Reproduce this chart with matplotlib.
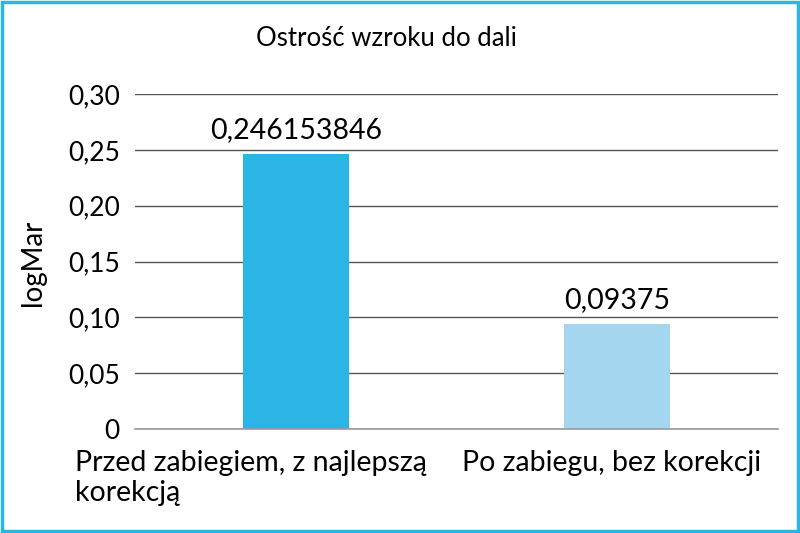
import matplotlib
matplotlib.use("Agg")
import matplotlib.pyplot as plt
from matplotlib.patches import Rectangle
import matplotlib.transforms as mtransforms

categories = ["Przed zabiegiem, z najlepszą\nkorekcją", "Po zabiegu, bez korekcji"]
values = [0.246153846, 0.09375]
value_labels = ["0,246153846", "0,09375"]
colors = ["#2BB5E4", "#A5D6F0"]
yticks = [0, 0.05, 0.10, 0.15, 0.20, 0.25, 0.30]
ytick_labels = ["0", "0,05", "0,10", "0,15", "0,20", "0,25", "0,30"]
title = "Ostrość wzroku do dali"
ylabel = "logMar"

plt.rcParams['font.family'] = ['Lato', 'DejaVu Sans']

fig = plt.figure(figsize=(8, 5.33), dpi=100)
ax = fig.add_axes([135/800, 1 - 429/533, (778-135)/800, (429-94)/533])

x = list(range(len(categories)))
ax.bar(x, values, width=0.33, color=colors, zorder=3)
ax.set_xlim(-0.5, 1.5)
ax.set_ylim(0, 0.30)
ax.set_yticks(yticks)
ax.set_yticklabels(ytick_labels, fontsize=19)
ax.yaxis.grid(True, color="#555555", linewidth=1.0, zorder=0)
ax.tick_params(axis='y', length=0, pad=11)
ax.tick_params(axis='x', length=0, pad=15)
for s in ["top", "right", "left"]:
    ax.spines[s].set_visible(False)
ax.spines["bottom"].set_color("#999999")
ax.spines["bottom"].set_linewidth(1.2)
ax.spines["bottom"].set_zorder(4)

ax.set_xticks(x)
ax.set_xticklabels(categories, fontsize=20.5, linespacing=1.2)
lbls = ax.get_xticklabels()
for lbl in lbls:
    lbl.set_verticalalignment('top')
lbls[0].set_multialignment('left')
lbls[0].set_transform(lbls[0].get_transform() + mtransforms.ScaledTranslation(-45/100, 0, fig.dpi_scale_trans))
lbls[1].set_transform(lbls[1].get_transform() + mtransforms.ScaledTranslation(-6/100, 0, fig.dpi_scale_trans))

for xi, v, t in zip(x, values, value_labels):
    ax.annotate(t, (xi, v), xytext=(0, 8), textcoords='offset points',
                ha='center', va='bottom', fontsize=20.5)

fig.text(386/800, 1 - 38/533, title, ha='center', va='center', fontsize=18.5)
fig.text(33/800, 1 - 263/533, ylabel, ha='center', va='center', rotation=90, fontsize=20)

fig.patches.append(Rectangle((0.002, 0.003), 0.996, 0.994, transform=fig.transFigure,
                             fill=False, edgecolor="#2BB5E4", linewidth=2.5))

fig.savefig("out.png", dpi=100)
